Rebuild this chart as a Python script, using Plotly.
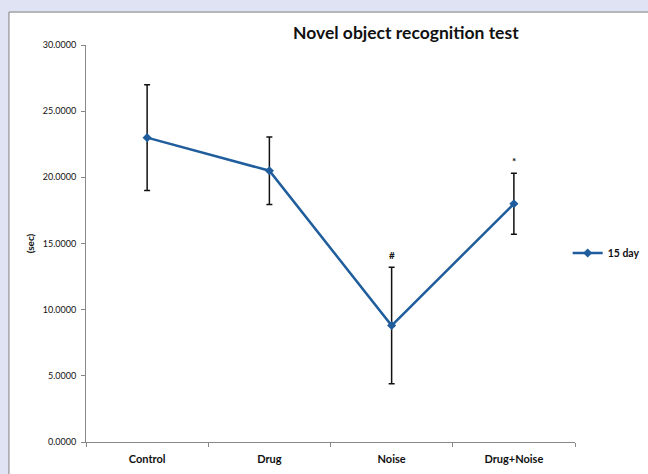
import plotly.graph_objects as go

# Novel object recognition test, 15 day group
groups = ["Control", "Drug", "Noise", "Drug+Noise"]
mean_sec = [23.0, 20.5, 8.8, 18.0]
err_sec = [4.0, 2.55, 4.4, 2.3]
sig_marks = ["", "", "#", "*"]
y_ticks = [0, 5, 10, 15, 20, 25, 30]

line_blue = "#1f5d9c"
font_main = "Lato, Open Sans, Liberation Sans, sans-serif"

fig = go.Figure()
fig.add_trace(go.Scatter(
    x=groups, y=mean_sec, name="15 day", mode="lines+markers",
    line=dict(color=line_blue, width=2.5),
    marker=dict(symbol="diamond", size=7, color=line_blue),
    error_y=dict(type="data", array=err_sec, visible=True,
                 color="#111111", thickness=1.5, width=3),
))

# significance symbols above the error bars
for g, m, e, s in zip(groups, mean_sec, err_sec, sig_marks):
    if s:
        fig.add_annotation(x=g, y=m + e, text=f"<b>{s}</b>", showarrow=False,
                           yshift=12, font=dict(size=10, color="#111111",
                                                family=font_main))

# white chart panel on the lavender page
fig.add_shape(type="rect", xref="paper", yref="paper",
              x0=-0.1575, x1=1.3, y0=-0.3, y1=1.083,
              fillcolor="white", line=dict(color="#7f7f7f", width=1),
              layer="below")

fig.update_layout(
    width=648, height=474,
    margin=dict(l=86, r=73, t=45, b=32, autoexpand=False),
    paper_bgcolor="#dfe3f3", plot_bgcolor="rgba(0,0,0,0)",
    title=dict(text="<b>Novel object recognition test</b>", x=0.654, xanchor="center",
               y=0.93, yanchor="middle", xref="paper", automargin=False,
               font=dict(size=17.5, family=font_main, color="#111111")),
    showlegend=True,
    legend=dict(x=0.985, y=0.476, xanchor="left", yanchor="middle",
                bgcolor="rgba(0,0,0,0)", itemwidth=30,
                font=dict(size=10.5, family=font_main, color="#111111", weight="bold")),
    font=dict(family=font_main, color="#111111"),
)
fig.update_xaxes(
    range=[-0.5, 3.5], showline=True, linecolor="#888888", linewidth=1,
    ticks="outside", tickson="boundaries", ticklen=4, tickcolor="#888888",
    showgrid=False, zeroline=False, ticklabelstandoff=7, automargin=False,
    tickfont=dict(size=11, family=font_main, weight="bold"),
)
fig.update_yaxes(
    range=[0, 30], tickvals=y_ticks, tickformat=".4f",
    showline=True, linecolor="#888888", linewidth=1,
    ticks="outside", ticklen=4, tickcolor="#888888",
    showgrid=False, zeroline=False, ticklabelstandoff=3, automargin=False,
    tickfont=dict(size=9, family=font_main),
    title=dict(text="(sec)", standoff=6,
               font=dict(size=10, family=font_main, weight="bold")),
)

fig.write_html("out.html")
